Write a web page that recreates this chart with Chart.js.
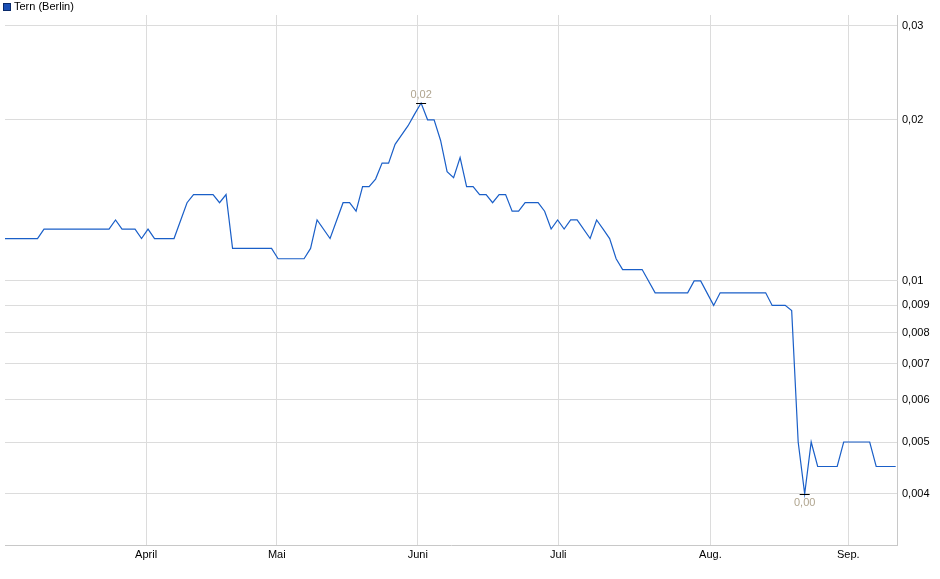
<!DOCTYPE html>
<html>
<head>
<meta charset="utf-8">
<script src="https://cdn.jsdelivr.net/npm/chart.js@4/dist/chart.umd.min.js"></script>
<style>
  html, body { margin: 0; padding: 0; background: #fff; }
  #wrap { width: 940px; height: 579px; }
</style>
</head>
<body>
<div id="wrap"><canvas id="chart"></canvas></div>
<script>
// Trading-day index and price (EUR)
const days = [0, 5, 6, 16, 17, 18, 20, 21, 22, 23, 26, 28, 29, 32, 33, 34, 35, 41, 42, 46,
  47, 48, 50, 52, 53, 54, 55, 56, 57, 58, 59, 60, 62, 63, 64, 65, 66, 67, 68, 69,
  70, 71, 72, 73, 74, 75, 76, 77, 78, 79, 80, 82, 83, 84, 85, 86, 87, 88, 90, 91,
  92, 93, 94, 95, 98, 100, 105, 106, 107, 109, 110, 117, 118, 120, 121, 122, 123, 124, 125, 128,
  129, 133, 134, 137];
const prices = [0.012, 0.012, 0.0125, 0.0125, 0.013, 0.0125, 0.0125, 0.012, 0.0125, 0.012, 0.012, 0.014, 0.0145, 0.0145, 0.014, 0.0145, 0.0115, 0.0115, 0.011, 0.011,
  0.0115, 0.013, 0.012, 0.014, 0.014, 0.0135, 0.015, 0.015, 0.0155, 0.0166, 0.0166, 0.018, 0.0195, 0.0205, 0.0215, 0.02, 0.02, 0.0183, 0.016, 0.0156,
  0.017, 0.015, 0.015, 0.0145, 0.0145, 0.014, 0.0145, 0.0145, 0.0135, 0.0135, 0.014, 0.014, 0.0135, 0.0125, 0.013, 0.0125, 0.013, 0.013, 0.012, 0.013,
  0.0125, 0.012, 0.011, 0.0105, 0.0105, 0.0095, 0.0095, 0.01, 0.01, 0.009, 0.0095, 0.0095, 0.009, 0.009, 0.0088, 0.005, 0.004, 0.005, 0.0045, 0.0045,
  0.005, 0.005, 0.0045, 0.0045];

const monthLabels = ['April', 'Mai', 'Juni', 'Juli', 'Aug.', 'Sep.'];
const monthPos = [21.7, 41.8, 63.5, 85.1, 108.5, 129.7];
const yTicks = [0.03, 0.02, 0.01, 0.009, 0.008, 0.007, 0.006, 0.005, 0.004];
const seriesName = 'Tern (Berlin)';

const FONT = 'Liberation Sans, Arial, sans-serif';
const GRID = '#dcdcdc';

const fmt = v => String(v).replace('.', ',');

const extras = {
  id: 'extras',
  afterDraw(chart) {
    const ctx = chart.ctx;
    const xs = chart.scales.x, ys = chart.scales.y;
    // legend
    ctx.save();
    ctx.fillStyle = '#1a4fb5';
    ctx.fillRect(3, 3, 7, 7);
    ctx.strokeStyle = '#0a2a6a';
    ctx.strokeRect(3.5, 3.5, 7, 7);
    ctx.fillStyle = '#000';
    ctx.font = '11px ' + FONT;
    ctx.textBaseline = 'middle';
    ctx.fillText(seriesName, 14, 7);
    // high / low markers
    let hi = 0, lo = 0;
    prices.forEach((p, i) => { if (p > prices[hi]) hi = i; if (p < prices[lo]) lo = i; });
    ctx.textAlign = 'center';
    ctx.fillStyle = '#b0a58f';
    ctx.strokeStyle = '#000';
    ctx.lineWidth = 1;
    [[hi, -1], [lo, 1]].forEach(([i, dir]) => {
      const px = xs.getPixelForValue(days[i]);
      const py = Math.round(ys.getPixelForValue(prices[i])) + 0.5;
      ctx.beginPath();
      ctx.moveTo(px - 5, py); ctx.lineTo(px + 5, py);
      ctx.stroke();
      ctx.textBaseline = dir < 0 ? 'bottom' : 'top';
      ctx.fillText(prices[i].toFixed(2).replace('.', ','), px, py + dir * 3);
    });
    ctx.restore();
  }
};

new Chart(document.getElementById('chart'), {
  type: 'line',
  data: {
    datasets: [{
      label: seriesName,
      data: days.map((d, i) => ({ x: d, y: prices[i] })),
      borderColor: '#1a5fc8',
      borderWidth: 1.2,
      pointRadius: 0,
      tension: 0,
      fill: false
    }]
  },
  options: {
    responsive: true,
    maintainAspectRatio: false,
    animation: false,
    layout: { padding: { top: 15, left: 5 } },
    plugins: { legend: { display: false }, tooltip: { enabled: false } },
    scales: {
      x: {
        type: 'linear',
        min: 0,
        max: 137.2,
        afterBuildTicks: s => { s.ticks = monthPos.map(v => ({ value: v })); },
        afterFit: s => { s.height = 34; },
        ticks: {
          color: '#000',
          font: { family: FONT, size: 11 },
          maxRotation: 0,
          callback: (v, i) => monthLabels[i]
        },
        grid: { color: GRID, drawTicks: false },
        border: { color: '#c8c8c8' }
      },
      y: {
        type: 'logarithmic',
        position: 'right',
        min: 0.00321,
        max: 0.0314,
        afterBuildTicks: s => { s.ticks = yTicks.map(v => ({ value: v })); },
        afterFit: s => { s.width = 43; },
        ticks: {
          color: '#000',
          font: { family: FONT, size: 11 },
          padding: 5,
          callback: v => fmt(v)
        },
        grid: { color: GRID, drawTicks: false },
        border: { color: '#c8c8c8' }
      }
    }
  },
  plugins: [extras]
});
</script>
</body>
</html>
